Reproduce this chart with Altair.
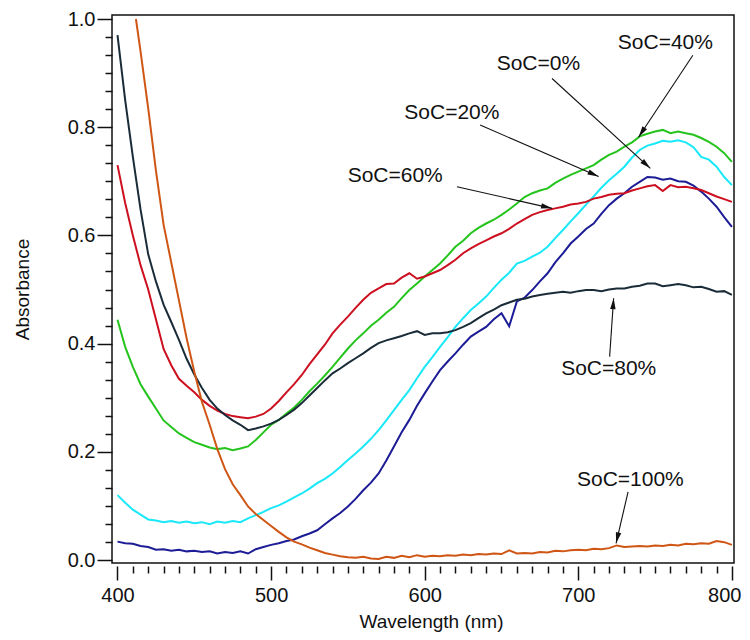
import math
import altair as alt
import pandas as pd

# ---------------- data ----------------
wl = list(range(400, 805, 5))

soc0 = [0.034, 0.031, 0.030, 0.026, 0.024, 0.019, 0.020, 0.017, 0.019, 0.016,
        0.017, 0.015, 0.016, 0.012, 0.015, 0.013, 0.016, 0.012, 0.020, 0.024,
        0.028, 0.031, 0.035, 0.038, 0.044, 0.049, 0.055, 0.066, 0.077, 0.087,
        0.099, 0.113, 0.129, 0.143, 0.160, 0.184, 0.210, 0.236, 0.259, 0.285,
        0.308, 0.330, 0.351, 0.367, 0.382, 0.398, 0.413, 0.422, 0.431, 0.445,
        0.456, 0.432, 0.478, 0.485, 0.499, 0.515, 0.530, 0.550, 0.567, 0.585,
        0.598, 0.612, 0.622, 0.640, 0.656, 0.668, 0.678, 0.690, 0.699, 0.708,
        0.707, 0.703, 0.705, 0.700, 0.699, 0.692, 0.681, 0.668, 0.653, 0.634,
        0.616]

soc20 = [0.120, 0.106, 0.093, 0.084, 0.075, 0.073, 0.070, 0.072, 0.069, 0.071,
         0.068, 0.070, 0.066, 0.071, 0.069, 0.072, 0.070, 0.077, 0.083, 0.089,
         0.096, 0.101, 0.108, 0.116, 0.123, 0.132, 0.142, 0.150, 0.160, 0.172,
         0.185, 0.197, 0.210, 0.224, 0.240, 0.258, 0.277, 0.296, 0.314, 0.336,
         0.357, 0.375, 0.394, 0.412, 0.431, 0.447, 0.462, 0.474, 0.487, 0.503,
         0.518, 0.531, 0.548, 0.553, 0.561, 0.568, 0.579, 0.595, 0.610, 0.626,
         0.641, 0.657, 0.672, 0.688, 0.702, 0.714, 0.727, 0.744, 0.758, 0.766,
         0.770, 0.775, 0.773, 0.776, 0.772, 0.763, 0.745, 0.740, 0.727, 0.708,
         0.693]

soc40 = [0.444, 0.394, 0.357, 0.325, 0.302, 0.280, 0.258, 0.246, 0.234, 0.226,
         0.218, 0.213, 0.208, 0.205, 0.207, 0.203, 0.206, 0.210, 0.222, 0.236,
         0.250, 0.259, 0.271, 0.282, 0.296, 0.312, 0.326, 0.341, 0.357, 0.374,
         0.391, 0.406, 0.419, 0.433, 0.444, 0.457, 0.468, 0.484, 0.499, 0.511,
         0.524, 0.536, 0.548, 0.563, 0.579, 0.590, 0.604, 0.614, 0.622, 0.629,
         0.638, 0.648, 0.659, 0.671, 0.678, 0.683, 0.687, 0.697, 0.705, 0.712,
         0.718, 0.724, 0.730, 0.740, 0.749, 0.755, 0.764, 0.772, 0.783, 0.788,
         0.792, 0.795, 0.789, 0.792, 0.789, 0.786, 0.780, 0.773, 0.764, 0.752,
         0.736]

soc60 = [0.730, 0.660, 0.600, 0.545, 0.500, 0.445, 0.390, 0.360, 0.335, 0.322,
         0.310, 0.296, 0.285, 0.276, 0.270, 0.266, 0.264, 0.262, 0.265, 0.270,
         0.280, 0.294, 0.310, 0.325, 0.342, 0.362, 0.380, 0.398, 0.419, 0.435,
         0.450, 0.466, 0.481, 0.494, 0.502, 0.510, 0.511, 0.522, 0.530, 0.520,
         0.524, 0.530, 0.536, 0.545, 0.555, 0.567, 0.576, 0.584, 0.591, 0.598,
         0.604, 0.612, 0.622, 0.630, 0.638, 0.643, 0.647, 0.650, 0.653, 0.657,
         0.659, 0.662, 0.668, 0.671, 0.675, 0.677, 0.678, 0.683, 0.687, 0.691,
         0.693, 0.682, 0.693, 0.689, 0.690, 0.687, 0.684, 0.678, 0.672, 0.667,
         0.662]

soc80 = [0.970, 0.850, 0.745, 0.648, 0.565, 0.515, 0.472, 0.440, 0.407, 0.372,
         0.343, 0.318, 0.296, 0.280, 0.268, 0.258, 0.250, 0.240, 0.243, 0.247,
         0.252, 0.259, 0.268, 0.278, 0.290, 0.304, 0.318, 0.332, 0.345, 0.354,
         0.364, 0.373, 0.382, 0.392, 0.401, 0.406, 0.410, 0.414, 0.419, 0.423,
         0.416, 0.419, 0.419, 0.421, 0.425, 0.431, 0.438, 0.447, 0.456, 0.463,
         0.471, 0.476, 0.481, 0.483, 0.487, 0.490, 0.492, 0.494, 0.496, 0.494,
         0.497, 0.499, 0.499, 0.497, 0.500, 0.502, 0.502, 0.505, 0.507, 0.511,
         0.511, 0.506, 0.508, 0.510, 0.508, 0.504, 0.505, 0.501, 0.496, 0.497,
         0.490]

wl100 = [412] + list(range(415, 805, 5))
soc100 = [1.000, 0.940, 0.835, 0.720, 0.620, 0.550, 0.480, 0.410, 0.348, 0.292,
          0.250, 0.205, 0.168, 0.140, 0.120, 0.099, 0.085, 0.074, 0.063, 0.052,
          0.042, 0.034, 0.029, 0.023, 0.018, 0.013, 0.010, 0.007, 0.005, 0.004,
          0.006, 0.003, 0.002, 0.006, 0.004, 0.008, 0.005, 0.009, 0.006, 0.008,
          0.007, 0.009, 0.008, 0.010, 0.009, 0.011, 0.010, 0.012, 0.011, 0.018,
          0.012, 0.013, 0.012, 0.015, 0.014, 0.017, 0.016, 0.018, 0.019, 0.018,
          0.021, 0.020, 0.022, 0.027, 0.024, 0.025, 0.026, 0.025, 0.027, 0.026,
          0.028, 0.027, 0.030, 0.029, 0.031, 0.030, 0.035, 0.033, 0.028]

series_names = ["SoC=0%", "SoC=20%", "SoC=40%", "SoC=60%", "SoC=80%", "SoC=100%"]
series_colors = ["#1c1c96", "#18e8f8", "#24c41c", "#cc1020", "#1a2c38", "#cf5614"]

# annotations (data units)
label_text = ["SoC=0%", "SoC=20%", "SoC=40%", "SoC=60%", "SoC=80%", "SoC=100%"]
label_x = [674.0, 617.7, 756.7, 580.8, 719.8, 733.9]
label_y = [0.917, 0.826, 0.955, 0.710, 0.353, 0.148]
arrow_x0 = [682.9, 636.1, 774.6, 621.0, 720.4, 732.4]
arrow_y0 = [0.890, 0.804, 0.933, 0.690, 0.376, 0.126]
arrow_x1 = [746.9, 713.2, 739.3, 682.9, 723.0, 724.6]
arrow_y1 = [0.724, 0.709, 0.782, 0.650, 0.484, 0.031]

x_ticks = list(range(400, 801, 10))
y_ticks = [round(i / 30, 6) for i in range(31)]

# ---------------- layout ----------------
W, H = 622, 548
XD = [396.42, 801.37]
YD = [-0.0055, 1.0074]
FONT = "Liberation Sans"

rows = []
for name, xs, ys in zip(series_names,
                        [wl, wl, wl, wl, wl, wl100],
                        [soc0, soc20, soc40, soc60, soc80, soc100]):
    for a, b in zip(xs, ys):
        rows.append({"series": name, "wl": a, "abs": b})
df = pd.DataFrame(rows)

pxx = W / (XD[1] - XD[0])
pxy = H / (YD[1] - YD[0])
ang = []
for a0, b0, a1, b1 in zip(arrow_x0, arrow_y0, arrow_x1, arrow_y1):
    dxp = (a1 - a0) * pxx
    dyp = -(b1 - b0) * pxy
    ang.append(math.degrees(math.atan2(dxp, -dyp)) % 360)

ann = pd.DataFrame({
    "text": label_text, "lx": label_x, "ly": label_y,
    "wl": arrow_x0, "abs": arrow_y0, "wl2": arrow_x1, "abs2": arrow_y1,
    "ang": ang,
})

xscale = alt.Scale(domain=XD, nice=False, zero=False)
yscale = alt.Scale(domain=YD, nice=False, zero=False)

x_axis = alt.Axis(
    values=x_ticks, format="d",
    labelExpr="datum.value % 100 == 0 ? datum.label : ''",
    tickSize={"condition": {"test": "datum.value % 100 == 0", "value": 14}, "value": 7},
    tickWidth=1.5, tickColor="#111", domain=False, grid=False, offset=3,
    labelFont=FONT, labelFontSize=20, labelColor="#111", labelPadding=5,
    labelAlign={"condition": {"test": "datum.value == 800", "value": "right"}, "value": "center"},
    labelOffset={"condition": {"test": "datum.value == 800", "value": 9}, "value": 0},
    labelOverlap=False, labelFlush=False,
    title="Wavelength (nm)", titleFont=FONT, titleFontSize=19,
    titleFontWeight="normal", titleColor="#111",
    titleX=319, titleY=55, titleBaseline="middle",
)
y_axis = alt.Axis(
    values=y_ticks,
    labelExpr="abs(datum.value*5 - round(datum.value*5)) < 0.001 ? format(datum.value, '.1f') : ''",
    tickSize={"condition": {"test": "abs(datum.value*5 - round(datum.value*5)) < 0.001", "value": 15}, "value": 7},
    tickWidth=1.5, tickColor="#111", domain=False, grid=False, offset=0,
    labelFont=FONT, labelFontSize=20, labelColor="#111", labelPadding=2,
    labelOverlap=False, labelFlush=False,
    title="Absorbance", titleFont=FONT, titleFontSize=19,
    titleFontWeight="normal", titleColor="#111",
    titleX=-90, titleY=274, titleBaseline="middle", titleAngle=270,
)


def X(field):
    return alt.X(field, type="quantitative", scale=xscale, axis=x_axis)


def Y(field):
    return alt.Y(field, type="quantitative", scale=yscale, axis=y_axis)


lines = alt.Chart(df).mark_line(strokeWidth=2, clip=True).encode(
    x=X("wl"),
    y=Y("abs"),
    color=alt.Color("series:N", scale=alt.Scale(domain=series_names, range=series_colors), legend=None),
    order=alt.Order("wl:Q"),
)

rules = alt.Chart(ann).mark_rule(color="#111", strokeWidth=1.1).encode(
    x=X("wl"), y=Y("abs"), x2="wl2:Q", y2="abs2:Q",
)

heads = alt.Chart(ann).mark_point(
    shape="M0,0L0.55,2.2L-0.55,2.2Z", filled=True, color="#111", opacity=1, size=100,
).encode(
    x=X("wl2"), y=Y("abs2"),
    angle=alt.Angle("ang:Q", scale=None),
)

texts = alt.Chart(ann).mark_text(
    font=FONT, fontSize=21, color="#111", align="center", baseline="middle",
).encode(
    x=X("lx"), y=Y("ly"), text="text:N",
)

chart = alt.layer(lines, rules, heads, texts).properties(
    width=W, height=H,
    padding={"left": 104, "top": 7, "right": 8, "bottom": 69},
    autosize=alt.AutoSizeParams(type="none"),
).configure_view(stroke="#111", strokeWidth=1.5)

chart.save("out.html", embed_options={"renderer": "svg", "actions": False})
